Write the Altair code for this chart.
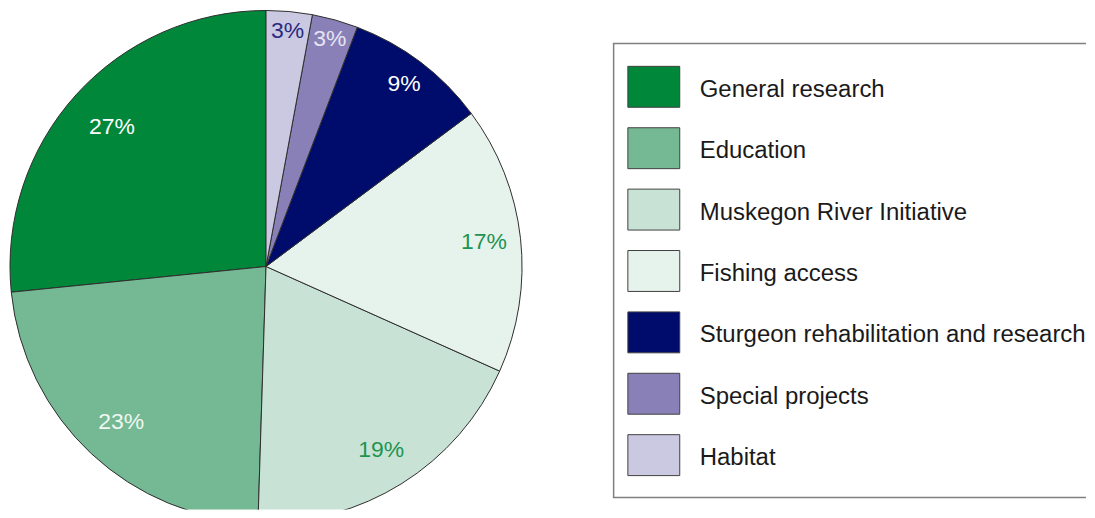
import altair as alt
import pandas as pd

# ---- data ----
categories = [
    "General research",
    "Education",
    "Muskegon River Initiative",
    "Fishing access",
    "Sturgeon rehabilitation and research",
    "Special projects",
    "Habitat",
]
shares = [26.6, 22.9, 18.8, 16.9, 9.0, 2.9, 2.9]
pct_labels = ["27%", "23%", "19%", "17%", "9%", "3%", "3%"]

# ---- styles ----
slice_colors = ["#00873A", "#74B993", "#C8E3D5", "#E6F2EC", "#000C6B", "#8A80B8", "#CBC8E2"]
label_colors = ["#FFFFFF", "#EEF7F1", "#1E9450", "#1E9450", "#FFFFFF", "#E6E4F2", "#2A2A80"]
FONT = "Liberation Sans"

df = pd.DataFrame({
    "category": categories,
    "share": shares,
    "label": pct_labels,
    "idx": list(range(len(categories))),
    "label_color": label_colors,
})
total = float(sum(shares))

color_scale = alt.Scale(domain=categories, range=slice_colors)

arcs = alt.Chart(df).mark_arc(radius=256.5, stroke="#2e2e2e", strokeWidth=1, clip=True).encode(
    theta=alt.Theta("share:Q", stack=True, scale=alt.Scale(domain=[0, total])),
    order=alt.Order("idx:Q", sort="descending"),
    color=alt.Color("category:N", scale=color_scale, legend=None),
    x=alt.value(258.5),
    y=alt.value(258.5),
)

# label at the middle of each slice; labels of wide slices sit a little closer to the centre
pie_text = alt.Chart(df).transform_window(
    cum="sum(share)",
    sort=[alt.SortField("idx", order="descending")],
    frame=[None, 0],
).transform_calculate(
    mid="datum.cum - datum.share / 2",
    lab_r="240 - 1.2 * datum.share",
).mark_text(fontSize=23, font=FONT).encode(
    theta=alt.Theta("mid:Q", stack=None, scale=alt.Scale(domain=[0, total])),
    radius=alt.Radius("lab_r:Q", scale=None),
    text="label:N",
    color=alt.Color("label_color:N", scale=None),
    x=alt.value(258.5),
    y=alt.value(258.5),
)

pie = alt.layer(arcs, pie_text).resolve_scale(theta="independent").properties(width=605, height=502)

# ---- legend panel ----
ypos = alt.Y(
    "category:N",
    sort=categories,
    scale=alt.Scale(type="point", range=[78.5, 447.5], padding=0),
    axis=None,
)

one = pd.DataFrame({"k": [0]})
border_color = "#7f7f7f"
LEG_W = 474
rule_top = alt.Chart(one).mark_rule(color=border_color, strokeWidth=1.5).encode(
    x=alt.value(0), x2=alt.value(LEG_W), y=alt.value(35)
)
rule_left = alt.Chart(one).mark_rule(color=border_color, strokeWidth=1.5).encode(
    x=alt.value(0.75), y=alt.value(35), y2=alt.value(490)
)
rule_bottom = alt.Chart(one).mark_rule(color=border_color, strokeWidth=1.5).encode(
    x=alt.value(0), x2=alt.value(LEG_W), y=alt.value(490)
)

swatches = alt.Chart(df).mark_point(
    shape="M-1.268,-1H1.268V1H-1.268Z",
    size=1681,
    filled=True,
    opacity=1,
    stroke="#404040",
    strokeWidth=1,
).encode(
    y=ypos,
    x=alt.value(41),
    fill=alt.Fill("category:N", scale=color_scale, legend=None),
)

legend_text = alt.Chart(df).mark_text(
    align="left", baseline="middle", fontSize=24, font=FONT, color="#1a1a1a", dy=3
).encode(
    y=ypos,
    x=alt.value(87),
    text="category:N",
)

legend = alt.layer(rule_top, rule_left, rule_bottom, swatches, legend_text).properties(
    width=LEG_W, height=502
)

chart = (
    alt.hconcat(pie, legend, spacing=0)
    .properties(padding=0)
    .configure_view(strokeWidth=0)
)

chart.save("out.html", embed_options={"renderer": "svg", "actions": False})
